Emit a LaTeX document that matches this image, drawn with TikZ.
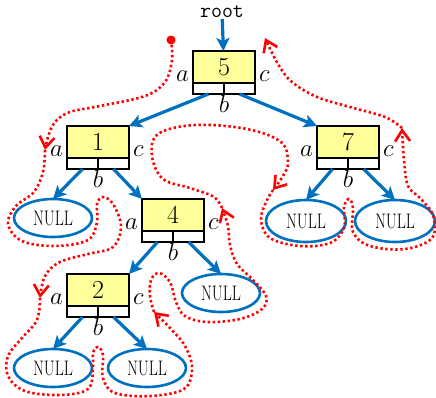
\documentclass[tikz,border=0pt]{standalone}
\usepackage{graphicx}
\usetikzlibrary{arrows.meta,positioning,shapes.geometric,calc}
\definecolor{keyyellow}{HTML}{FFFF99}
\definecolor{ptrblue}{HTML}{0070C0}
\tikzset{
  >={Stealth[length=13pt,width=13pt,inset=3pt]},
  keybox/.style={draw, line width=2.8pt, outer sep=0pt, fill=keyyellow, minimum width=62pt, minimum height=32pt, inner sep=0pt, font=\fontsize{26}{28}\selectfont},
  linkbox/.style={draw, line width=2.8pt, outer sep=0pt, fill=white, minimum width=62pt, minimum height=11pt, inner sep=0pt,
    path picture={\draw[line width=2.8pt] (path picture bounding box.north) -- (path picture bounding box.south);}},
  nilnode/.style={ellipse, draw=ptrblue, line width=2.6pt, outer sep=0pt, minimum width=78pt, minimum height=38pt, inner sep=0pt, font=\fontsize{21}{22}\selectfont},
  ptr/.style={->, draw=ptrblue, line width=3.2pt},
  trav/.style={red, line width=2.6pt, dash pattern=on 2.4pt off 2.6pt, -{Straight Barb[length=11pt,width=15pt]}},
  fld/.style={inner sep=1pt, font=\fontsize{24}{26}\selectfont},
  fa/.style={label={[fld, anchor=south east, xshift=-3pt]south west:$a$}, label={[fld, anchor=south west, xshift=3pt]south east:$c$}},
  fb/.style={label={[fld, anchor=north, inner sep=0pt, yshift=-1pt]south:$b$}},
}

\begin{document}
\begin{tikzpicture}[x=1pt, y=-1pt]
  \useasboundingbox (0,0) rectangle (436,397);

  \node[font=\ttfamily\fontsize{17}{18}\selectfont, inner sep=1pt] (root) at (222,12) {\scalebox{1.25}{root}};

  \node[keybox, fa] (k5) at (224,67) {5};
  \node[linkbox, fb, below=0pt of k5] (s5) {};
  \node[keybox, fa] (k1) at (98,142) {1};
  \node[linkbox, fb, below=0pt of k1] (s1) {};
  \node[keybox, fa] (k7) at (348,142) {7};
  \node[linkbox, fb, below=0pt of k7] (s7) {};
  \node[keybox, fa] (k4) at (173,215) {4};
  \node[linkbox, fb, below=0pt of k4] (s4) {};
  \node[keybox, fa] (k2) at (98,290) {2};
  \node[linkbox, fb, below=0pt of k2] (s2) {};

  \node[nilnode] (nil1) at (53,218) {\scalebox{0.75}[1]{NULL}};
  \node[nilnode] (nil4) at (221,293) {\scalebox{0.75}[1]{NULL}};
  \node[nilnode] (nil2a) at (53,368) {\scalebox{0.75}[1]{NULL}};
  \node[nilnode] (nil2b) at (147,368) {\scalebox{0.75}[1]{NULL}};
  \node[nilnode, minimum width=80pt, minimum height=42pt] (nil7a) at (306,221) {\scalebox{0.75}[1]{NULL}};
  \node[nilnode, minimum width=80pt, minimum height=42pt] (nil7b) at (395,221) {\scalebox{0.75}[1]{NULL}};

  \draw[ptr] (root) -- (k5);
  \draw[ptr] ($(s5.south west)!0.25!(s5.south east)$) -- (k1.north east);
  \draw[ptr] ($(s5.south west)!0.75!(s5.south east)$) -- (k7.north west);
  \draw[ptr] ($(s1.south west)!0.25!(s1.south east)$) -- (nil1.north);
  \draw[ptr] ($(s1.south west)!0.75!(s1.south east)$) -- (k4.north west);
  \draw[ptr] ($(s4.south west)!0.25!(s4.south east)$) -- (k2.north east);
  \draw[ptr] ($(s4.south west)!0.75!(s4.south east)$) -- (nil4.north);
  \draw[ptr] ($(s2.south west)!0.25!(s2.south east)$) -- (nil2a.north);
  \draw[ptr] ($(s2.south west)!0.75!(s2.south east)$) -- (nil2b.north);
  \draw[ptr] ($(s7.south west)!0.25!(s7.south east)$) -- (nil7a.north);
  \draw[ptr] ($(s7.south west)!0.75!(s7.south east)$) -- (nil7b.north);

  \node[circle, fill=red, inner sep=0pt, minimum size=9pt] (start) at (171,40) {};
  \coordinate (t1) at (45,150);
  \coordinate (t2) at (40,298);
  \coordinate (t3) at (154,312);
  \coordinate (t4) at (222,208);
  \coordinate (t5) at (273,190);
  \coordinate (t6) at (402,128);
  \coordinate (t7) at (265,38);

  \draw[trav] plot[smooth, tension=0.6] coordinates {(start.center) (172,60) (165,82) (145,96) (100,106) (70,112) (55,122) (48,137) (t1)};
  \draw[trav] plot[smooth, tension=0.6] coordinates {(t1) (43,172) (34,192) (16,206) (8,224) (22,241) (55,246) (88,240) (97,222) (97,204) (103,197) (113,204) (121,226) (113,247) (88,254) (60,262) (45,276) (t2)};
  \draw[trav] plot[smooth, tension=0.6] coordinates {(t2) (37,320) (22,338) (8,356) (8,376) (25,391) (60,395) (88,389) (93,368) (93,353) (98,347) (103,355) (103,378) (115,393) (150,396) (184,389) (192,368) (185,346) (170,328) (t3)};
  \draw[trav] plot[smooth, tension=0.6] coordinates {(t3) (150,296) (151,280) (159,273) (170,282) (176,302) (185,316) (207,322) (240,319) (262,309) (266,296) (252,279) (237,264) (230,245) (228,226) (t4)};
  \draw[trav] plot[smooth, tension=0.6] coordinates {(t4) (214,197) (190,188) (163,179) (152,156) (158,134) (195,125) (247,129) (281,142) (288,162) (283,176) (t5)};
  \draw[trav] plot[smooth, tension=0.6] coordinates {(t5) (266,202) (261,220) (270,238) (300,246) (330,243) (344,228) (344,207) (349,199) (353,208) (353,232) (370,246) (405,249) (432,238) (433,215) (420,198) (408,186) (404,160) (t6)};
  \draw[trav] plot[smooth, tension=0.6] coordinates {(t6) (385,117) (350,107) (317,97) (292,82) (278,64) (t7)};
\end{tikzpicture}
\end{document}
